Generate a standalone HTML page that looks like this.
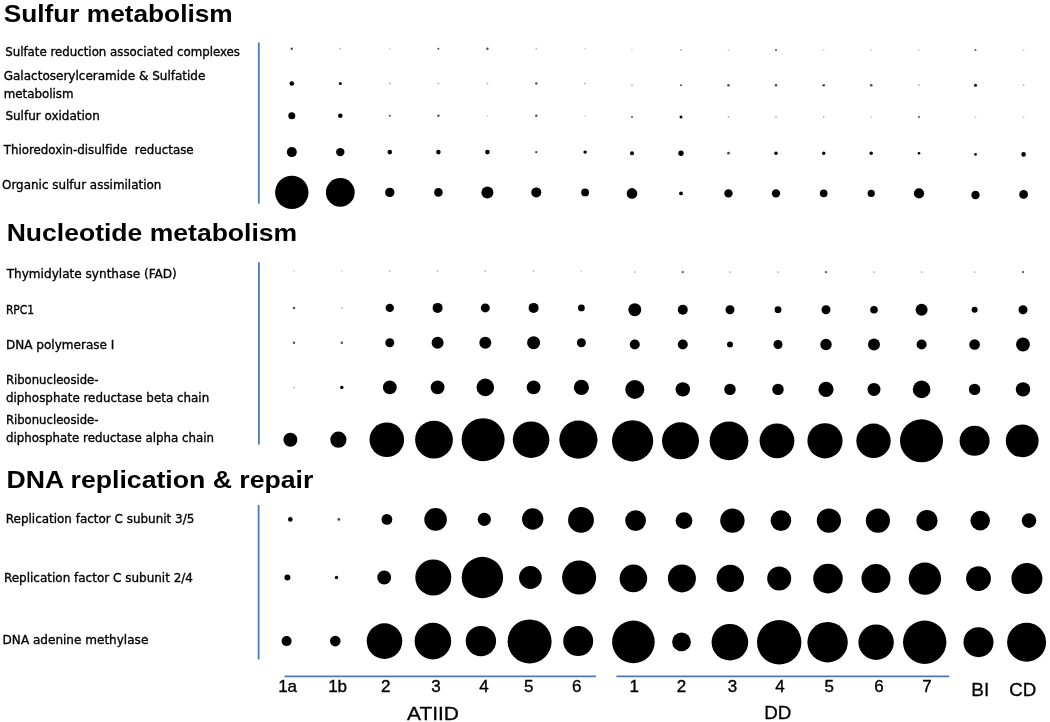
<!DOCTYPE html>
<html lang="en">
<head>
<meta charset="utf-8">
<title>Bubble chart</title>
<style>
html,body{margin:0;padding:0;background:#fff;}
body{width:1050px;height:722px;overflow:hidden;}
svg{display:block;}
.lab{font-family:"DejaVu Sans","Liberation Sans",sans-serif;font-size:12.4px;fill:#000;stroke:#000;stroke-width:0.35px;font-variant-ligatures:none;white-space:pre;}
.hd{font-family:"Liberation Sans",sans-serif;font-weight:bold;font-size:24.5px;fill:#000;}
.ax{font-family:"Liberation Sans",sans-serif;font-size:17px;fill:#000;stroke:#000;stroke-width:0.35px;text-anchor:middle;}
.bg{font-family:"Liberation Sans",sans-serif;font-size:19.2px;fill:#000;stroke:#000;stroke-width:0.3px;}
.ln{stroke:#4f78b8;stroke-width:1.8;fill:none;}
</style>
</head>
<body>
<svg width="1050" height="722" viewBox="0 0 1050 722">
<rect width="1050" height="722" fill="#fff"/>

<g class="ln">
<line x1="258.8" y1="42.6" x2="258.8" y2="203.7"/>
<line x1="258.9" y1="262.3" x2="258.9" y2="444.5"/>
<line x1="258.6" y1="505" x2="258.6" y2="659.5"/>
<line x1="284.4" y1="676.4" x2="596" y2="676.4"/>
<line x1="616.4" y1="676.4" x2="949.3" y2="676.4"/>
</g>
<text class="hd" x="3.7" y="21.8" textLength="229.0" lengthAdjust="spacingAndGlyphs">Sulfur metabolism</text>
<text class="hd" x="6.7" y="240.5" textLength="290.5" lengthAdjust="spacingAndGlyphs">Nucleotide metabolism</text>
<text class="hd" x="6.4" y="488" textLength="307.0" lengthAdjust="spacingAndGlyphs">DNA replication &amp; repair</text>
<text class="lab" x="5.2" y="55.7" textLength="234.8" lengthAdjust="spacingAndGlyphs">Sulfate reduction associated complexes</text>
<text class="lab" x="3.7" y="79.9" textLength="201.7" lengthAdjust="spacingAndGlyphs">Galactoserylceramide &amp; Sulfatide</text>
<text class="lab" x="3.7" y="97.9" textLength="69.8" lengthAdjust="spacingAndGlyphs">metabolism</text>
<text class="lab" x="5.4" y="120.3" textLength="94.4" lengthAdjust="spacingAndGlyphs">Sulfur oxidation</text>
<text class="lab" x="3.7" y="154" textLength="189.9" lengthAdjust="spacingAndGlyphs">Thioredoxin-disulfide  reductase</text>
<text class="lab" x="2" y="188.9" textLength="159.4" lengthAdjust="spacingAndGlyphs">Organic sulfur assimilation</text>
<text class="lab" x="6.7" y="278.0" textLength="170.1" lengthAdjust="spacingAndGlyphs">Thymidylate synthase (FAD)</text>
<text class="lab" x="5.9" y="313.5" textLength="28.3" lengthAdjust="spacingAndGlyphs">RPC1</text>
<text class="lab" x="5.9" y="349.4" textLength="108.5" lengthAdjust="spacingAndGlyphs">DNA polymerase I</text>
<text class="lab" x="5.9" y="383.5" textLength="92.6" lengthAdjust="spacingAndGlyphs">Ribonucleoside-</text>
<text class="lab" x="5.9" y="401.6" textLength="203.3" lengthAdjust="spacingAndGlyphs">diphosphate reductase beta chain</text>
<text class="lab" x="5.9" y="423.9" textLength="92.6" lengthAdjust="spacingAndGlyphs">Ribonucleoside-</text>
<text class="lab" x="5.9" y="442.2" textLength="208.2" lengthAdjust="spacingAndGlyphs">diphosphate reductase alpha chain</text>
<text class="lab" x="5.8" y="523" textLength="188.5" lengthAdjust="spacingAndGlyphs">Replication factor C subunit 3/5</text>
<text class="lab" x="3.9" y="582.0" textLength="189.1" lengthAdjust="spacingAndGlyphs">Replication factor C subunit 2/4</text>
<text class="lab" x="2.6" y="644" textLength="145.7" lengthAdjust="spacingAndGlyphs">DNA adenine methylase</text>
<text class="ax" x="287.6" y="692.2">1a</text>
<text class="ax" x="337.6" y="692.2">1b</text>
<text class="ax" x="385.8" y="692.2">2</text>
<text class="ax" x="435.9" y="692.2">3</text>
<text class="ax" x="484" y="692.2">4</text>
<text class="ax" x="528.8" y="692.2">5</text>
<text class="ax" x="576.8" y="692.2">6</text>
<text class="ax" x="634.2" y="692.2">1</text>
<text class="ax" x="681.4" y="692.2">2</text>
<text class="ax" x="732.4" y="692.2">3</text>
<text class="ax" x="780" y="692.2">4</text>
<text class="ax" x="829.3" y="692.2">5</text>
<text class="ax" x="879" y="692.2">6</text>
<text class="ax" x="927" y="692.2">7</text>
<text class="bg" x="407" y="720" textLength="52.0" lengthAdjust="spacingAndGlyphs">ATIID</text>
<text class="bg" x="764.3" y="719.3" textLength="27.1" lengthAdjust="spacingAndGlyphs">DD</text>
<text class="bg" x="971.2" y="696" textLength="18.0" lengthAdjust="spacingAndGlyphs">BI</text>
<text class="bg" x="1009.3" y="696" textLength="27.0" lengthAdjust="spacingAndGlyphs">CD</text>
<g fill="#000" style="filter:blur(0.35px)">
<circle cx="291.8" cy="48.7" r="1.2" fill-opacity="0.7"/>
<circle cx="340.3" cy="48.7" r="0.9" fill="#000" fill-opacity="0.3"/>
<circle cx="389.8" cy="48.7" r="0.9" fill="#000" fill-opacity="0.18"/>
<circle cx="438.4" cy="48.7" r="1.0" fill-opacity="0.7"/>
<circle cx="487.4" cy="48.7" r="1.2" fill-opacity="0.7"/>
<circle cx="536.3" cy="48.7" r="0.9" fill="#000" fill-opacity="0.3"/>
<circle cx="585.1" cy="48.7" r="0.9" fill="#000" fill-opacity="0.18"/>
<circle cx="632" cy="50.0" r="0.9" fill="#000" fill-opacity="0.18"/>
<circle cx="681" cy="50.0" r="0.9" fill="#000" fill-opacity="0.3"/>
<circle cx="728.5" cy="50.0" r="0.9" fill="#000" fill-opacity="0.18"/>
<circle cx="776" cy="50.0" r="1.0" fill-opacity="0.7"/>
<circle cx="823.7" cy="50.0" r="0.9" fill="#000" fill-opacity="0.18"/>
<circle cx="871.2" cy="50.0" r="0.9" fill="#000" fill-opacity="0.18"/>
<circle cx="919" cy="50.0" r="0.9" fill="#000" fill-opacity="0.18"/>
<circle cx="975.5" cy="50.0" r="1.0" fill-opacity="0.7"/>
<circle cx="1023.6" cy="50.0" r="0.9" fill="#000" fill-opacity="0.18"/>
<circle cx="291.8" cy="83.5" r="2.3"/>
<circle cx="340.3" cy="83.5" r="1.5"/>
<circle cx="389.8" cy="83.5" r="0.9" fill="#000" fill-opacity="0.3"/>
<circle cx="438.4" cy="83.5" r="0.9" fill="#000" fill-opacity="0.3"/>
<circle cx="487.4" cy="83.5" r="0.9" fill="#000" fill-opacity="0.3"/>
<circle cx="536.3" cy="83.5" r="1.2" fill-opacity="0.7"/>
<circle cx="585.1" cy="83.5" r="0.9" fill="#000" fill-opacity="0.3"/>
<circle cx="632" cy="85.2" r="0.9" fill="#000" fill-opacity="0.3"/>
<circle cx="681" cy="85.2" r="1.0" fill-opacity="0.7"/>
<circle cx="728.5" cy="85.2" r="1.3" fill-opacity="0.7"/>
<circle cx="776" cy="85.2" r="1.3" fill-opacity="0.7"/>
<circle cx="823.7" cy="85.2" r="1.3" fill-opacity="0.7"/>
<circle cx="871.2" cy="85.2" r="1.3" fill-opacity="0.7"/>
<circle cx="919" cy="85.2" r="0.9" fill="#000" fill-opacity="0.3"/>
<circle cx="975.5" cy="85.2" r="1.5"/>
<circle cx="1023.6" cy="85.2" r="0.9" fill="#000" fill-opacity="0.3"/>
<circle cx="291.8" cy="115.8" r="3.5"/>
<circle cx="340.3" cy="115.8" r="2.3"/>
<circle cx="389.8" cy="115.8" r="1.0" fill-opacity="0.7"/>
<circle cx="438.4" cy="115.8" r="1.2" fill-opacity="0.7"/>
<circle cx="487.4" cy="115.8" r="0.9" fill="#000" fill-opacity="0.18"/>
<circle cx="536.3" cy="115.8" r="1.2" fill-opacity="0.7"/>
<circle cx="585.1" cy="115.8" r="0.9" fill="#000" fill-opacity="0.18"/>
<circle cx="632" cy="117.0" r="1.0" fill-opacity="0.7"/>
<circle cx="681" cy="117.0" r="1.5"/>
<circle cx="728.5" cy="117.0" r="0.9" fill="#000" fill-opacity="0.3"/>
<circle cx="776" cy="117.0" r="0.9" fill="#000" fill-opacity="0.3"/>
<circle cx="823.7" cy="117.0" r="0.9" fill="#000" fill-opacity="0.3"/>
<circle cx="871.2" cy="117.0" r="0.9" fill="#000" fill-opacity="0.18"/>
<circle cx="919" cy="117.0" r="1.0" fill-opacity="0.7"/>
<circle cx="975.5" cy="117.0" r="0.9" fill="#000" fill-opacity="0.18"/>
<circle cx="1023.6" cy="117.0" r="0.9" fill="#000" fill-opacity="0.18"/>
<circle cx="291.8" cy="152.1" r="5"/>
<circle cx="340.3" cy="152.1" r="4.2"/>
<circle cx="389.8" cy="152.1" r="2.3"/>
<circle cx="438.4" cy="152.1" r="2.3"/>
<circle cx="487.4" cy="152.1" r="2.3"/>
<circle cx="536.3" cy="152.1" r="1.2" fill-opacity="0.7"/>
<circle cx="585.1" cy="152.1" r="1.7"/>
<circle cx="632" cy="153.2" r="2.0"/>
<circle cx="681" cy="153.2" r="2.7"/>
<circle cx="728.5" cy="153.2" r="1.4" fill-opacity="0.7"/>
<circle cx="776" cy="153.2" r="1.7"/>
<circle cx="823.7" cy="153.2" r="1.7"/>
<circle cx="871.2" cy="153.2" r="1.7"/>
<circle cx="919" cy="153.2" r="1.3"/>
<circle cx="975.5" cy="154.4" r="1.3"/>
<circle cx="1023.6" cy="154.4" r="2.3"/>
<circle cx="291.8" cy="192.4" r="16.7"/>
<circle cx="340.3" cy="192.4" r="14.4"/>
<circle cx="389.8" cy="192.4" r="4.7"/>
<circle cx="438.4" cy="192.4" r="4.3"/>
<circle cx="487.4" cy="192.4" r="6"/>
<circle cx="536.3" cy="192.4" r="5"/>
<circle cx="585.1" cy="192.4" r="3.9"/>
<circle cx="632" cy="193.4" r="5.3"/>
<circle cx="681" cy="193.4" r="1.9"/>
<circle cx="728.5" cy="193.4" r="4.2"/>
<circle cx="776" cy="193.4" r="4.2"/>
<circle cx="823.7" cy="193.4" r="3.8"/>
<circle cx="871.2" cy="193.4" r="3.6"/>
<circle cx="919" cy="193.4" r="5.1"/>
<circle cx="975.5" cy="195" r="4.2"/>
<circle cx="1023.6" cy="194.4" r="4.4"/>
<circle cx="294" cy="271.1" r="0.9" fill="#000" fill-opacity="0.18"/>
<circle cx="341.8" cy="271.1" r="0.9" fill="#000" fill-opacity="0.18"/>
<circle cx="389.8" cy="271.1" r="0.9" fill="#000" fill-opacity="0.3"/>
<circle cx="437.6" cy="271.1" r="0.9" fill="#000" fill-opacity="0.3"/>
<circle cx="485.3" cy="271.1" r="0.9" fill="#000" fill-opacity="0.3"/>
<circle cx="533.6" cy="271.1" r="0.9" fill="#000" fill-opacity="0.3"/>
<circle cx="581.4" cy="271.1" r="0.9" fill="#000" fill-opacity="0.18"/>
<circle cx="634.8" cy="272.1" r="0.9" fill="#000" fill-opacity="0.3"/>
<circle cx="682.8" cy="272.1" r="1.1" fill-opacity="0.7"/>
<circle cx="730" cy="272.1" r="0.9" fill="#000" fill-opacity="0.3"/>
<circle cx="778" cy="272.1" r="0.9" fill="#000" fill-opacity="0.3"/>
<circle cx="826" cy="272.1" r="1.1" fill-opacity="0.7"/>
<circle cx="874" cy="272.1" r="0.9" fill="#000" fill-opacity="0.3"/>
<circle cx="921.6" cy="272.1" r="0.9" fill="#000" fill-opacity="0.3"/>
<circle cx="974.6" cy="272.1" r="0.9" fill="#000" fill-opacity="0.3"/>
<circle cx="1023" cy="272.1" r="1.1" fill-opacity="0.7"/>
<circle cx="294" cy="307.9" r="1.2" fill-opacity="0.7"/>
<circle cx="341.8" cy="307.9" r="0.9" fill="#000" fill-opacity="0.3"/>
<circle cx="389.8" cy="307.9" r="4.2"/>
<circle cx="437.6" cy="307.9" r="5"/>
<circle cx="485.3" cy="307.9" r="4.5"/>
<circle cx="533.6" cy="307.9" r="5"/>
<circle cx="581.4" cy="307.9" r="3.4"/>
<circle cx="634.8" cy="309.7" r="6.5"/>
<circle cx="682.8" cy="309.7" r="5"/>
<circle cx="730" cy="309.7" r="4.5"/>
<circle cx="778" cy="309.7" r="3.4"/>
<circle cx="826" cy="309.7" r="4.5"/>
<circle cx="874" cy="309.7" r="3.8"/>
<circle cx="921.6" cy="309.7" r="6"/>
<circle cx="974.6" cy="309.7" r="3"/>
<circle cx="1023" cy="309.7" r="4.5"/>
<circle cx="294" cy="342.7" r="1.2" fill-opacity="0.7"/>
<circle cx="341.8" cy="342.7" r="1.2" fill-opacity="0.7"/>
<circle cx="389.8" cy="342.7" r="4.5"/>
<circle cx="437.6" cy="342.7" r="6"/>
<circle cx="485.3" cy="342.7" r="6"/>
<circle cx="533.6" cy="342.7" r="6.5"/>
<circle cx="581.4" cy="342.7" r="4.5"/>
<circle cx="634.8" cy="344.5" r="5"/>
<circle cx="682.8" cy="344.5" r="5"/>
<circle cx="730" cy="344.5" r="3"/>
<circle cx="778" cy="344.5" r="4.5"/>
<circle cx="826" cy="344.5" r="5.7"/>
<circle cx="874" cy="344.5" r="6"/>
<circle cx="921.6" cy="344.5" r="5"/>
<circle cx="974.6" cy="344.5" r="5.3"/>
<circle cx="1023" cy="344.5" r="6.9"/>
<circle cx="294" cy="387.4" r="0.9" fill="#000" fill-opacity="0.3"/>
<circle cx="341.8" cy="387.4" r="1.7"/>
<circle cx="389.8" cy="387.4" r="6.9"/>
<circle cx="437.6" cy="387.4" r="6.9"/>
<circle cx="485.3" cy="387.4" r="8.8"/>
<circle cx="533.6" cy="387.4" r="6.9"/>
<circle cx="581.4" cy="387.4" r="7.6"/>
<circle cx="634.8" cy="389.4" r="9.5"/>
<circle cx="682.8" cy="389.4" r="7.2"/>
<circle cx="730" cy="389.4" r="5.7"/>
<circle cx="778" cy="389.4" r="5.7"/>
<circle cx="826" cy="389.4" r="7.6"/>
<circle cx="874" cy="389.4" r="6.5"/>
<circle cx="921.6" cy="389.4" r="8.8"/>
<circle cx="974.6" cy="389.4" r="5.7"/>
<circle cx="1023" cy="389.4" r="7.2"/>
<circle cx="290.4" cy="439.7" r="7.0"/>
<circle cx="338.4" cy="439.7" r="8.1"/>
<circle cx="386.8" cy="439.7" r="17.3"/>
<circle cx="434" cy="439.7" r="18.9"/>
<circle cx="483.1" cy="439.7" r="21.5"/>
<circle cx="531.1" cy="439.7" r="18.3"/>
<circle cx="578.4" cy="439.7" r="19.1"/>
<circle cx="632.6" cy="440.8" r="20.6"/>
<circle cx="680.5" cy="440.8" r="18.5"/>
<circle cx="729" cy="440.8" r="19.4"/>
<circle cx="777" cy="440.8" r="17.4"/>
<circle cx="825" cy="440.8" r="17.6"/>
<circle cx="873.5" cy="440.8" r="17.2"/>
<circle cx="921.5" cy="440.8" r="21.5"/>
<circle cx="974.6" cy="440.8" r="15.0"/>
<circle cx="1022.2" cy="440.8" r="16.4"/>
<circle cx="290.3" cy="519.4" r="2.3"/>
<circle cx="338.8" cy="519.4" r="1.4" fill-opacity="0.7"/>
<circle cx="386.9" cy="519.4" r="5.4"/>
<circle cx="435.6" cy="519.4" r="11.3"/>
<circle cx="484.3" cy="519.4" r="6.6"/>
<circle cx="532.7" cy="519.0" r="10.7"/>
<circle cx="581" cy="519.9" r="12.9"/>
<circle cx="635.6" cy="520.6" r="10.4"/>
<circle cx="684" cy="520.6" r="8.4"/>
<circle cx="732.4" cy="520.6" r="12.2"/>
<circle cx="780.9" cy="520.6" r="10.3"/>
<circle cx="828.9" cy="520.6" r="12.1"/>
<circle cx="877.9" cy="520.6" r="12.1"/>
<circle cx="927" cy="520.6" r="10.6"/>
<circle cx="980.2" cy="520.6" r="9.8"/>
<circle cx="1029" cy="520.6" r="7.3"/>
<circle cx="287.4" cy="577.5" r="3"/>
<circle cx="336.5" cy="577.5" r="1.7"/>
<circle cx="384.2" cy="577.5" r="6.9"/>
<circle cx="433.3" cy="577.5" r="18.0"/>
<circle cx="482.4" cy="577.5" r="20.7"/>
<circle cx="530.4" cy="577.5" r="11.4"/>
<circle cx="579.1" cy="577.5" r="17.0"/>
<circle cx="633.4" cy="578.4" r="13.8"/>
<circle cx="681.9" cy="578.4" r="14.0"/>
<circle cx="730.3" cy="578.4" r="13.7"/>
<circle cx="779.2" cy="578.6" r="12"/>
<circle cx="828" cy="578.6" r="14.8"/>
<circle cx="876" cy="578.6" r="14.5"/>
<circle cx="924.9" cy="578.6" r="16.2"/>
<circle cx="978.5" cy="578.6" r="12.4"/>
<circle cx="1026.9" cy="578.6" r="15.5"/>
<circle cx="286.6" cy="641.1" r="5"/>
<circle cx="335.3" cy="641.1" r="5.3"/>
<circle cx="384.5" cy="641.1" r="17.8"/>
<circle cx="432.9" cy="641.1" r="18.3"/>
<circle cx="480.9" cy="641.1" r="15.2"/>
<circle cx="529.6" cy="641.4" r="22.0"/>
<circle cx="578.2" cy="641.1" r="15.0"/>
<circle cx="633.4" cy="641.9" r="21.3"/>
<circle cx="681.5" cy="641.9" r="9.4"/>
<circle cx="729.9" cy="642.2" r="18.3"/>
<circle cx="779.2" cy="642.2" r="22.2"/>
<circle cx="827.6" cy="642.2" r="20.2"/>
<circle cx="876.1" cy="642.2" r="17.7"/>
<circle cx="924.7" cy="642.2" r="21.7"/>
<circle cx="978.5" cy="642.2" r="15"/>
<circle cx="1026.6" cy="642.2" r="19.5"/>
</g>
</svg>
</body>
</html>
